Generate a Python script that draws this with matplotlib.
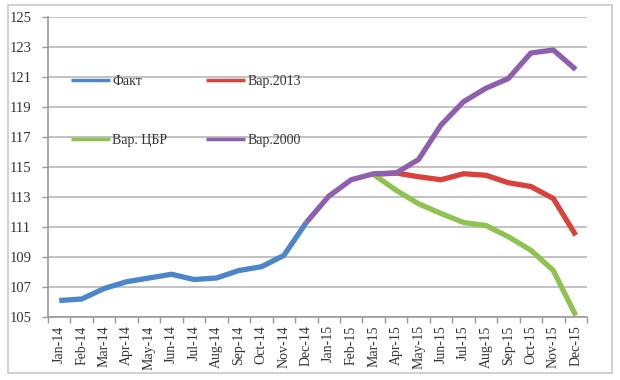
import numpy as np
import matplotlib
matplotlib.use("Agg")
import matplotlib.pyplot as plt
from matplotlib.patches import Rectangle

months = ["Jan-14", "Feb-14", "Mar-14", "Apr-14", "May-14", "Jun-14", "Jul-14", "Aug-14",
          "Sep-14", "Oct-14", "Nov-14", "Dec-14", "Jan-15", "Feb-15", "Mar-15", "Apr-15",
          "May-15", "Jun-15", "Jul-15", "Aug-15", "Sep-15", "Oct-15", "Nov-15", "Dec-15"]
nan = np.nan
fact = [106.1, 106.2, 106.9, 107.35, 107.6, 107.85, 107.5, 107.6, 108.1, 108.35, 109.1, 111.3,
        nan, nan, nan, nan, nan, nan, nan, nan, nan, nan, nan, nan]
var2013 = [nan] * 14 + [114.5, 114.6, 114.35, 114.15, 114.55, 114.45, 113.95, 113.7, 112.9, 110.45]
var_cbr = [nan] * 14 + [114.5, 113.45, 112.55, 111.9, 111.3, 111.1, 110.35, 109.45, 108.1, 105.1]
var2000 = [nan] * 11 + [111.3, 113.05, 114.15, 114.55, 114.6, 115.5, 117.8, 119.35, 120.25,
                        120.9, 122.6, 122.8, 121.5]
yticks = [105, 107, 109, 111, 113, 115, 117, 119, 121, 123, 125]

plt.rcParams['font.family'] = ['Liberation Serif', 'DejaVu Serif']

fig = plt.figure(figsize=(6.2, 3.8), dpi=100)
fig.patches.append(Rectangle((8 / 620, 1 - 373 / 380), 604 / 620, 368 / 380,
                             transform=fig.transFigure, fill=False,
                             edgecolor='#c8c8c8', linewidth=1.2))
ax = fig.add_axes([48 / 620, 1 - 317 / 380, 539 / 620, 300 / 380])

x = np.arange(len(months))
lw = 3.8
h_fact, = ax.plot(x, fact, color='#4a86c8', lw=lw, label='Факт', solid_capstyle='butt')
h_2013, = ax.plot(x, var2013, color='#d9413b', lw=lw, label='Вар.2013', solid_capstyle='butt')
h_cbr, = ax.plot(x, var_cbr, color='#8ec34f', lw=lw, label='Вар. ЦБР', solid_capstyle='butt')
h_2000, = ax.plot(x, var2000, color='#8e5fb0', lw=lw, label='Вар.2000', solid_capstyle='butt')

ax.set_xlim(-0.5, len(months) - 0.5)
ax.set_ylim(105, 125)
ax.set_yticks(yticks)
ax.set_yticklabels([str(v) for v in yticks], fontsize=10.5, color='#333333')
ax.yaxis.grid(True, color='#bdbdbd', lw=1.3)
ax.set_axisbelow(True)

ax.set_xticks(x)
ax.set_xticklabels(months, rotation=90, fontsize=10, color='#333333')
ax.set_xticks(np.arange(len(months) + 1) - 0.5, minor=True)
ax.tick_params(axis='x', which='major', length=0, pad=6)
ax.tick_params(axis='x', which='minor', length=4, color='#9a9a9a', width=1)
ax.tick_params(axis='y', length=4, color='#9a9a9a', width=1, pad=8)

for s in ['top', 'right']:
    ax.spines[s].set_visible(False)
for s in ['left', 'bottom']:
    ax.spines[s].set_color('#9a9a9a')
    ax.spines[s].set_linewidth(1.2)

leg = ax.legend([h_fact, h_cbr, h_2013, h_2000],
                ['Факт', 'Вар. ЦБР', 'Вар.2013', 'Вар.2000'],
                ncol=2, frameon=False, fontsize=10, loc='upper left',
                bbox_to_anchor=(0.02, 0.848), handlelength=2.8, handletextpad=0.15,
                columnspacing=2.8, labelspacing=3.3)
for line in leg.get_lines():
    line.set_linewidth(2.5)
for t in leg.get_texts():
    t.set_color('#333333')

fig.savefig('out.png', dpi=100)
